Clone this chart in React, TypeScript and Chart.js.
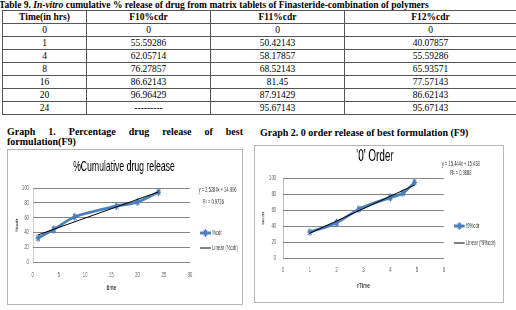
import React, { useEffect, useRef } from "react";
import { Chart, registerables } from "chart.js";

Chart.register(...registerables);

// Table 9: in-vitro cumulative % release (F10–F12)
const tableTimes = ["0", "1", "4", "8", "16", "20", "24"];
const f10Cdr = ["0", "55.59286", "62.05714", "76.27857", "86.62143", "96.96429", "---------"];
const f11Cdr = ["0", "50.42143", "58.17857", "68.52143", "81.45", "87.91429", "95.67143"];
const f12Cdr = ["0", "40.07857", "55.59286", "65.93571", "77.57143", "86.62143", "95.67143"];

// Best formulation F9 release profile
const f9Hours = [1, 4, 8, 16, 20, 24];
const f9RootHours = [1, 2, 2.83, 4, 4.47, 4.9];
const f9Cdr = [32.4, 44.0, 61.0, 75.6, 81.0, 94.4];

// Linear trendlines printed on each graph
const g1Slope = 2.5284;
const g1Intercept = 34.096;
const g1R2 = "0.9736";
const g2Slope = 15.444;
const g2Intercept = 15.438;
const g2R2 = "0.9888";

const SANS = '"Liberation Sans", Arial, sans-serif';
const SERIF = '"Liberation Serif", "Times New Roman", serif';
const SERIES_BLUE = "#4A7EBB";
const SQUEEZE = 0.62;

type Geo = {
  w: number; h: number; left: number; right: number; top: number; bottom: number;
  yTickPad: number; xTickPad: number; xTitlePad: number; yTitlePad: number;
  titleX: number; titleY: number; titleSize: number;
  legX: number; legY: number; legGap: number;
  eqX: number; eqY: number; r2X: number; r2Y: number;
};

type Props = {
  xs: number[]; ys: number[]; slope: number; intercept: number; r2: string;
  xMax: number; xStep: number; title: string; xTitle: string; seriesLabel: string; geo: Geo;
};

function drawStar(ctx: CanvasRenderingContext2D, x: number, y: number, r: number) {
  const d = r * Math.SQRT1_2;
  ctx.beginPath();
  ctx.moveTo(x - r, y); ctx.lineTo(x + r, y);
  ctx.moveTo(x, y - r); ctx.lineTo(x, y + r);
  ctx.moveTo(x - d, y - d); ctx.lineTo(x + d, y + d);
  ctx.moveTo(x - d, y + d); ctx.lineTo(x + d, y - d);
  ctx.stroke();
}

function fmt(n: number) {
  return String(n);
}

function ReleaseChart({ xs, ys, slope, intercept, r2, xMax, xStep, title, xTitle, seriesLabel, geo }: Props) {
  const ref = useRef<HTMLCanvasElement>(null);

  useEffect(() => {
    if (!ref.current) return;
    const x0 = xs[0];
    const x1 = xs[xs.length - 1];
    const trend = [
      { x: x0, y: slope * x0 + intercept },
      { x: x1, y: slope * x1 + intercept },
    ];
    const series = xs.map((x, i) => ({ x, y: ys[i] }));

    const annotate = {
      id: "annotate",
      afterDraw(chart: Chart) {
        const ctx = chart.ctx;
        ctx.save();
        ctx.textBaseline = "middle";
        // chart title
        ctx.fillStyle = "#000";
        ctx.textAlign = "center";
        ctx.font = `${geo.titleSize}px ${SANS}`;
        ctx.fillText(title, geo.titleX, geo.titleY);
        // trendline equation
        ctx.fillStyle = "#404040";
        ctx.font = `6.5px ${SANS}`;
        ctx.fillText(`y = ${fmt(slope)}x + ${fmt(intercept)}`, geo.eqX, geo.eqY);
        ctx.fillText(`R\u00B2 = ${r2}`, geo.r2X, geo.r2Y);
        // legend
        const lx = geo.legX;
        const ly = geo.legY;
        ctx.strokeStyle = SERIES_BLUE;
        ctx.lineWidth = 3;
        ctx.beginPath();
        ctx.moveTo(lx, ly); ctx.lineTo(lx + 17, ly);
        ctx.stroke();
        ctx.lineWidth = 1.5;
        drawStar(ctx, lx + 8.5, ly, 4);
        ctx.strokeStyle = "#000";
        ctx.lineWidth = 1;
        ctx.beginPath();
        ctx.moveTo(lx, ly + geo.legGap); ctx.lineTo(lx + 17, ly + geo.legGap);
        ctx.stroke();
        ctx.fillStyle = "#404040";
        ctx.textAlign = "left";
        ctx.font = `7px ${SANS}`;
        ctx.fillText(seriesLabel, lx + 19, ly);
        ctx.fillText(`Linear (${seriesLabel})`, lx + 19, ly + geo.legGap);
        ctx.restore();
      },
    };

    const chart = new Chart(ref.current, {
      type: "line",
      data: {
        datasets: [
          {
            label: `Linear (${seriesLabel})`,
            data: trend,
            borderColor: "#000",
            borderWidth: 1,
            pointRadius: 0,
            tension: 0,
          },
          {
            label: seriesLabel,
            data: series,
            borderColor: SERIES_BLUE,
            backgroundColor: SERIES_BLUE,
            borderWidth: 3,
            pointStyle: "star",
            pointRadius: 4,
            pointBorderWidth: 1.5,
            pointBorderColor: SERIES_BLUE,
            tension: 0.3,
          },
        ],
      },
      options: {
        responsive: false,
        animation: false,
        devicePixelRatio: 1,
        events: [],
        layout: { padding: { top: geo.top, right: geo.right, left: 0, bottom: 0 } },
        plugins: {
          legend: { display: false },
          title: { display: false },
          tooltip: { enabled: false },
        },
        scales: {
          x: {
            type: "linear",
            min: 0,
            max: xMax,
            afterFit: (s: any) => { s.height = geo.bottom; },
            grid: { display: false, drawTicks: false },
            border: { display: true, color: "#868686", width: 1 },
            ticks: {
              stepSize: xStep,
              padding: geo.xTickPad,
              color: "#595959",
              font: { family: SANS, size: 7 },
            },
            title: {
              display: true,
              text: xTitle,
              color: "#404040",
              font: { family: SANS, size: 7.5, weight: "bold", lineHeight: 1.2 },
              padding: { top: 0, bottom: geo.xTitlePad },
            },
          },
          y: {
            type: "linear",
            min: 0,
            max: 100,
            afterFit: (s: any) => { s.width = geo.left; },
            grid: { color: "#868686", lineWidth: 1, drawTicks: false },
            border: { display: true, color: "#868686", width: 1 },
            ticks: {
              stepSize: 20,
              padding: geo.yTickPad,
              color: "#595959",
              font: { family: SANS, size: 7 },
            },
            title: {
              display: true,
              text: "%cdr",
              color: "#404040",
              font: { family: SANS, size: 5.5, weight: "bold", lineHeight: 1.2 },
              padding: { top: geo.yTitlePad, bottom: 0 },
            },
          },
        },
      },
      plugins: [annotate],
    });
    return () => chart.destroy();
  }, []);

  return (
    <div
      style={{
        position: "absolute",
        left: 0,
        top: 0,
        width: geo.w,
        height: geo.h,
        transform: `scaleX(${SQUEEZE})`,
        transformOrigin: "0 0",
      }}
    >
      <canvas ref={ref} width={geo.w} height={geo.h} style={{ display: "block", width: geo.w, height: geo.h }} />
    </div>
  );
}

const geo1: Geo = {
  w: 377, h: 154, left: 40, right: 83.5, top: 38, bottom: 42,
  yTickPad: 6, xTickPad: 8.8, xTitlePad: 11.5, yTitlePad: 11.5,
  titleX: 187, titleY: 17, titleSize: 14,
  legX: 310, legY: 83, legGap: 15,
  eqX: 338, eqY: 40, r2X: 331, r2Y: 52,
};

const geo2: Geo = {
  w: 400, h: 156, left: 45.2, right: 95.2, top: 32, bottom: 44,
  yTickPad: 11, xTickPad: 7.8, xTitlePad: 11.5, yTitlePad: 10,
  titleX: 193.5, titleY: 11, titleSize: 16,
  legX: 321, legY: 80, legGap: 17,
  eqX: 332, eqY: 18, r2X: 332, r2Y: 27,
};

const cell: React.CSSProperties = {
  border: "1px solid #555",
  padding: 0,
  height: 12,
  lineHeight: "12px",
  textAlign: "center",
  whiteSpace: "nowrap",
};

export default function App() {
  return (
    <div style={{ position: "relative", width: 516, height: 310, background: "#fff", overflow: "hidden", fontFamily: SERIF, color: "#000" }}>
      <style>{"body{margin:0;background:#fff;}"}</style>
      <div style={{ position: "absolute", left: -1, top: 0, fontSize: 9.5, lineHeight: "10px", fontWeight: "bold", whiteSpace: "nowrap" }}>
        Table 9. <i>In-vitro</i> cumulative % release of drug from matrix tablets of Finasteride-combination of polymers
      </div>
      <table
        style={{
          position: "absolute", left: 2, top: 10, width: 514, borderCollapse: "collapse",
          tableLayout: "fixed", fontSize: 9.5, fontFamily: SERIF,
        }}
      >
        <colgroup>
          <col style={{ width: 84 }} />
          <col style={{ width: 124 }} />
          <col style={{ width: 134 }} />
          <col style={{ width: 172 }} />
        </colgroup>
        <thead>
          <tr>
            <th style={cell}>Time(in hrs)</th>
            <th style={cell}>F10%cdr</th>
            <th style={cell}>F11%cdr</th>
            <th style={cell}>F12%cdr</th>
          </tr>
        </thead>
        <tbody>
          {tableTimes.map((t, i) => (
            <tr key={t}>
              <td style={cell}>{t}</td>
              <td style={cell}>{f10Cdr[i]}</td>
              <td style={cell}>{f11Cdr[i]}</td>
              <td style={cell}>{f12Cdr[i]}</td>
            </tr>
          ))}
        </tbody>
      </table>

      <div style={{ position: "absolute", left: 7, top: 127, width: 236, fontSize: 10, lineHeight: "9.5px", fontWeight: "bold", textAlign: "justify" }}>
        Graph 1. Percentage drug release of best formulation(F9)
      </div>
      <div style={{ position: "absolute", left: 260, top: 128, fontSize: 10, lineHeight: "10px", fontWeight: "bold", whiteSpace: "nowrap" }}>
        Graph 2. 0 order release of best formulation (F9)
      </div>

      <div style={{ position: "absolute", left: 7, top: 149, width: 236, height: 156, border: "1px solid #b5b5b5", boxSizing: "border-box", overflow: "hidden", background: "#fff" }}>
        <ReleaseChart
          xs={f9Hours} ys={f9Cdr} slope={g1Slope} intercept={g1Intercept} r2={g1R2}
          xMax={30} xStep={5} title="%Cumulative drug release" xTitle="time" seriesLabel="%cdr" geo={geo1}
        />
      </div>
      <div style={{ position: "absolute", left: 254, top: 145, width: 250, height: 158, border: "1px solid #b5b5b5", boxSizing: "border-box", overflow: "hidden", background: "#fff" }}>
        <ReleaseChart
          xs={f9RootHours} ys={f9Cdr} slope={g2Slope} intercept={g2Intercept} r2={g2R2}
          xMax={6} xStep={1} title="'0' Order" xTitle="rTime" seriesLabel="f9%cdr" geo={geo2}
        />
      </div>
    </div>
  );
}
